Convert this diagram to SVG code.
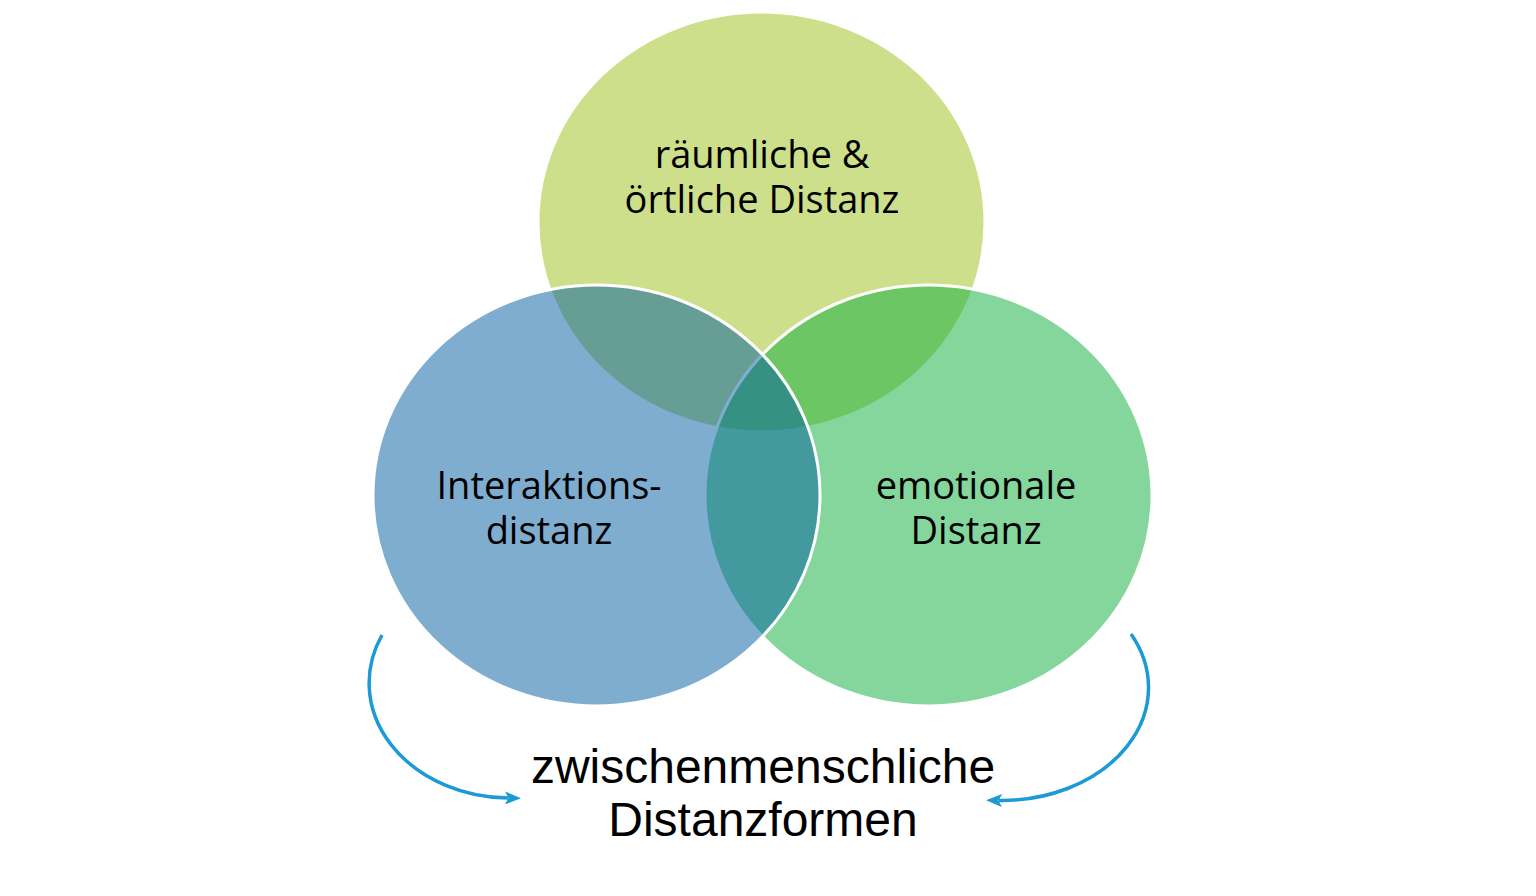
<svg xmlns="http://www.w3.org/2000/svg" width="1536" height="896" viewBox="0 0 1536 896">
<defs>
<style>
.circ{stroke:#ffffff;stroke-width:3;fill-opacity:0.5}
.lbl{font-family:"Open Sans","Liberation Sans",sans-serif;font-size:38px;fill:#000;text-anchor:middle}
.title{font-family:"Liberation Sans",Arial,sans-serif;font-size:48px;fill:#000;text-anchor:middle}
.arr{fill:none;stroke:#1b9ad6;stroke-width:3.5}
</style>
<marker id="ah" viewBox="0 0 16 13" refX="3" refY="6.5" markerWidth="16" markerHeight="13" markerUnits="userSpaceOnUse" orient="auto">
<path d="M0,0 L16,6.5 L0,13 L3.5,6.5 Z" fill="#1b9ad6"/>
</marker>
</defs>
<rect width="1536" height="896" fill="#ffffff"/>
<g id="node-top">
<ellipse class="circ" cx="761.5" cy="222" rx="223.5" ry="210" fill="#9bbf15"/>
</g>
<g id="node-right">
<ellipse class="circ" cx="928.5" cy="495.5" rx="223.5" ry="210.5" fill="#09ad3b"/>
</g>
<g id="node-left">
<ellipse class="circ" cx="596.5" cy="495.5" rx="223.5" ry="210.5" fill="#005b9f"/>
</g>
<g id="labels">
<text class="lbl" x="762" y="168">räumliche &amp;<tspan x="762" dy="45">örtliche Distanz</tspan></text>
<text class="lbl" x="549" y="499">Interaktions-<tspan x="549" dy="45">distanz</tspan></text>
<text class="lbl" x="976" y="499">emotionale<tspan x="976" dy="45">Distanz</tspan></text>
</g>
<g id="connectors">
<path class="arr" d="M382,635 A141,115 0 0 0 508,798" marker-end="url(#ah)"/>
<path class="arr" d="M1131,634 A147,113 0 0 1 999,800.5" marker-end="url(#ah)"/>
</g>
<g id="title">
<text class="title" x="763" y="783">zwischenmenschliche<tspan x="763" dy="53">Distanzformen</tspan></text>
</g>
</svg>
